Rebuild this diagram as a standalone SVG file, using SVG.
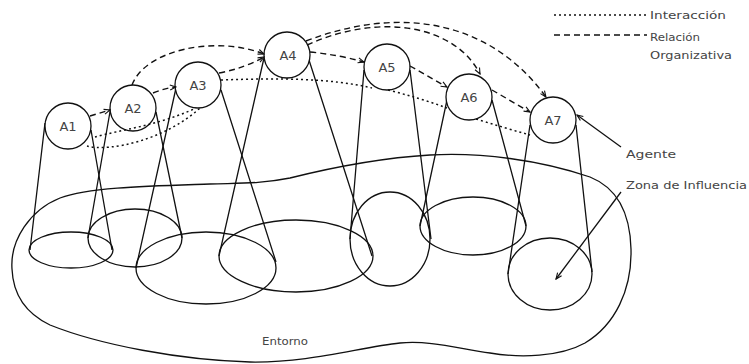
<svg xmlns="http://www.w3.org/2000/svg" width="749" height="364" viewBox="0 0 749 364">
<style>
.ln{fill:none;stroke:#111;stroke-width:1.3}
.ag{fill:#fff;stroke:#111;stroke-width:1.3}
.dash{fill:none;stroke:#111;stroke-width:1.4;stroke-dasharray:6 4}
.dot{fill:none;stroke:#111;stroke-width:1.5;stroke-dasharray:2 3}
.t{font-family:"DejaVu Sans","Liberation Sans",sans-serif;font-size:11px;fill:#444}
.al{font-family:"DejaVu Sans","Liberation Sans",sans-serif;font-size:13px;fill:#444;text-anchor:middle}
</style>
<defs>
<marker id="ah" markerWidth="8" markerHeight="8" refX="7" refY="4" orient="auto" markerUnits="userSpaceOnUse">
<path d="M1,1.5 L7,4 L1,6.5" fill="none" stroke="#111" stroke-width="1.1"/>
</marker>
</defs>
<g id="entorno">
<path class="ln" d="M12 269 C10 240,30 210,60 198 C90 187,150 186,210 184 C240 183,260 184,290 178 C330 168,380 158,430 155 C480 152,540 160,590 177 C615 187,630 210,631 249 C632 290,615 325,585 343 C560 357,520 358,490 353 C460 349,430 340,400 343 C360 347,310 363,250 362 C180 360,100 345,50 325 C25 313,13 293,12 269 Z"/>
<text class="t" x="262" y="345" textLength="46" lengthAdjust="spacingAndGlyphs">Entorno</text>
</g>
<g id="zonas">
<ellipse class="ln" cx="71" cy="250" rx="42" ry="18"/>
<ellipse class="ln" cx="135" cy="238" rx="47" ry="29"/>
<ellipse class="ln" cx="206" cy="268" rx="70" ry="36"/>
<ellipse class="ln" cx="296" cy="256" rx="77" ry="36"/>
<ellipse class="ln" cx="390" cy="239" rx="40" ry="47"/>
<ellipse class="ln" cx="473" cy="226" rx="53" ry="29"/>
<ellipse class="ln" cx="550" cy="274" rx="42" ry="36"/>
</g>
<g id="conos">
<path class="ln" d="M45 123 L30 250 M91 130 L112 250"/>
<path class="ln" d="M111 106 L88 238 M156 112 L182 238"/>
<path class="ln" d="M176 88 L136 268 M221 90 L276 262"/>
<path class="ln" d="M264 58 L219 256 M309 60 L372 256"/>
<path class="ln" d="M364 70 L350 239 M410 70 L431 239"/>
<path class="ln" d="M447 100 L420 226 M492 100 L526 226"/>
<path class="ln" d="M530 125 L508 274 M576 125 L592 272"/>
</g>
<g id="A1"><circle class="ag" cx="68" cy="126" r="23"/><text class="al" x="68" y="131">A1</text></g>
<g id="A2"><circle class="ag" cx="133" cy="108" r="23"/><text class="al" x="133" y="113">A2</text></g>
<g id="A3"><circle class="ag" cx="198" cy="85" r="23"/><text class="al" x="198" y="90">A3</text></g>
<g id="A4"><circle class="ag" cx="287" cy="55" r="23"/><text class="al" x="288" y="60">A4</text></g>
<g id="A5"><circle class="ag" cx="387" cy="67" r="23"/><text class="al" x="387" y="72">A5</text></g>
<g id="A6"><circle class="ag" cx="469" cy="97" r="23"/><text class="al" x="469" y="102">A6</text></g>
<g id="A7"><circle class="ag" cx="553" cy="120" r="23"/><text class="al" x="553" y="125">A7</text></g>
<g id="connectors">
<path class="dash" d="M90 116 L110 110" marker-end="url(#ah)"/>
<path class="dash" d="M153 93 Q165 88 176 87" marker-end="url(#ah)"/>
<path class="dash" d="M132 85 C145 50,215 35,264 54" marker-end="url(#ah)"/>
<path class="dash" d="M219 73 Q245 68 264 57" marker-end="url(#ah)"/>
<path class="dash" d="M310 52 Q340 55 364 62" marker-end="url(#ah)"/>
<path class="dash" d="M306 41 C400 5,490 20,546 97" marker-end="url(#ah)"/>
<path class="dash" d="M307 45 C380 12,455 25,480 74" marker-end="url(#ah)"/>
<path class="dash" d="M410 66 L447 87" marker-end="url(#ah)"/>
<path class="dash" d="M492 90 L530 112" marker-end="url(#ah)"/>
<path class="dot" d="M87 146 C110 152,165 140,200 108"/>
<path class="dot" d="M95 137 C120 130,160 125,196 108"/>
<path class="dot" d="M221 80 C280 78,330 78,372 88"/>
<path class="dot" d="M388 90 Q420 98 447 108"/>
<path class="dot" d="M476 119 Q505 128 530 135"/>
<path class="ln" d="M621 147 L577 115" marker-end="url(#ah)"/>
<path class="ln" d="M621 192 L556 279" marker-end="url(#ah)"/>
</g>
<g id="leyenda">
<path class="dot" d="M554 15 L647 15"/>
<text class="t" x="650" y="19" textLength="76" lengthAdjust="spacingAndGlyphs">Interacción</text>
<path class="dash" d="M554 35 L647 35"/>
<text class="t" x="650" y="41" textLength="50" lengthAdjust="spacingAndGlyphs">Relación</text>
<text class="t" x="650" y="59" textLength="82" lengthAdjust="spacingAndGlyphs">Organizativa</text>
</g>
<g id="etiquetas">
<text class="t" x="626" y="158" textLength="50" lengthAdjust="spacingAndGlyphs">Agente</text>
<text class="t" x="626" y="189" textLength="121" lengthAdjust="spacingAndGlyphs">Zona de Influencia</text>
</g>
</svg>
